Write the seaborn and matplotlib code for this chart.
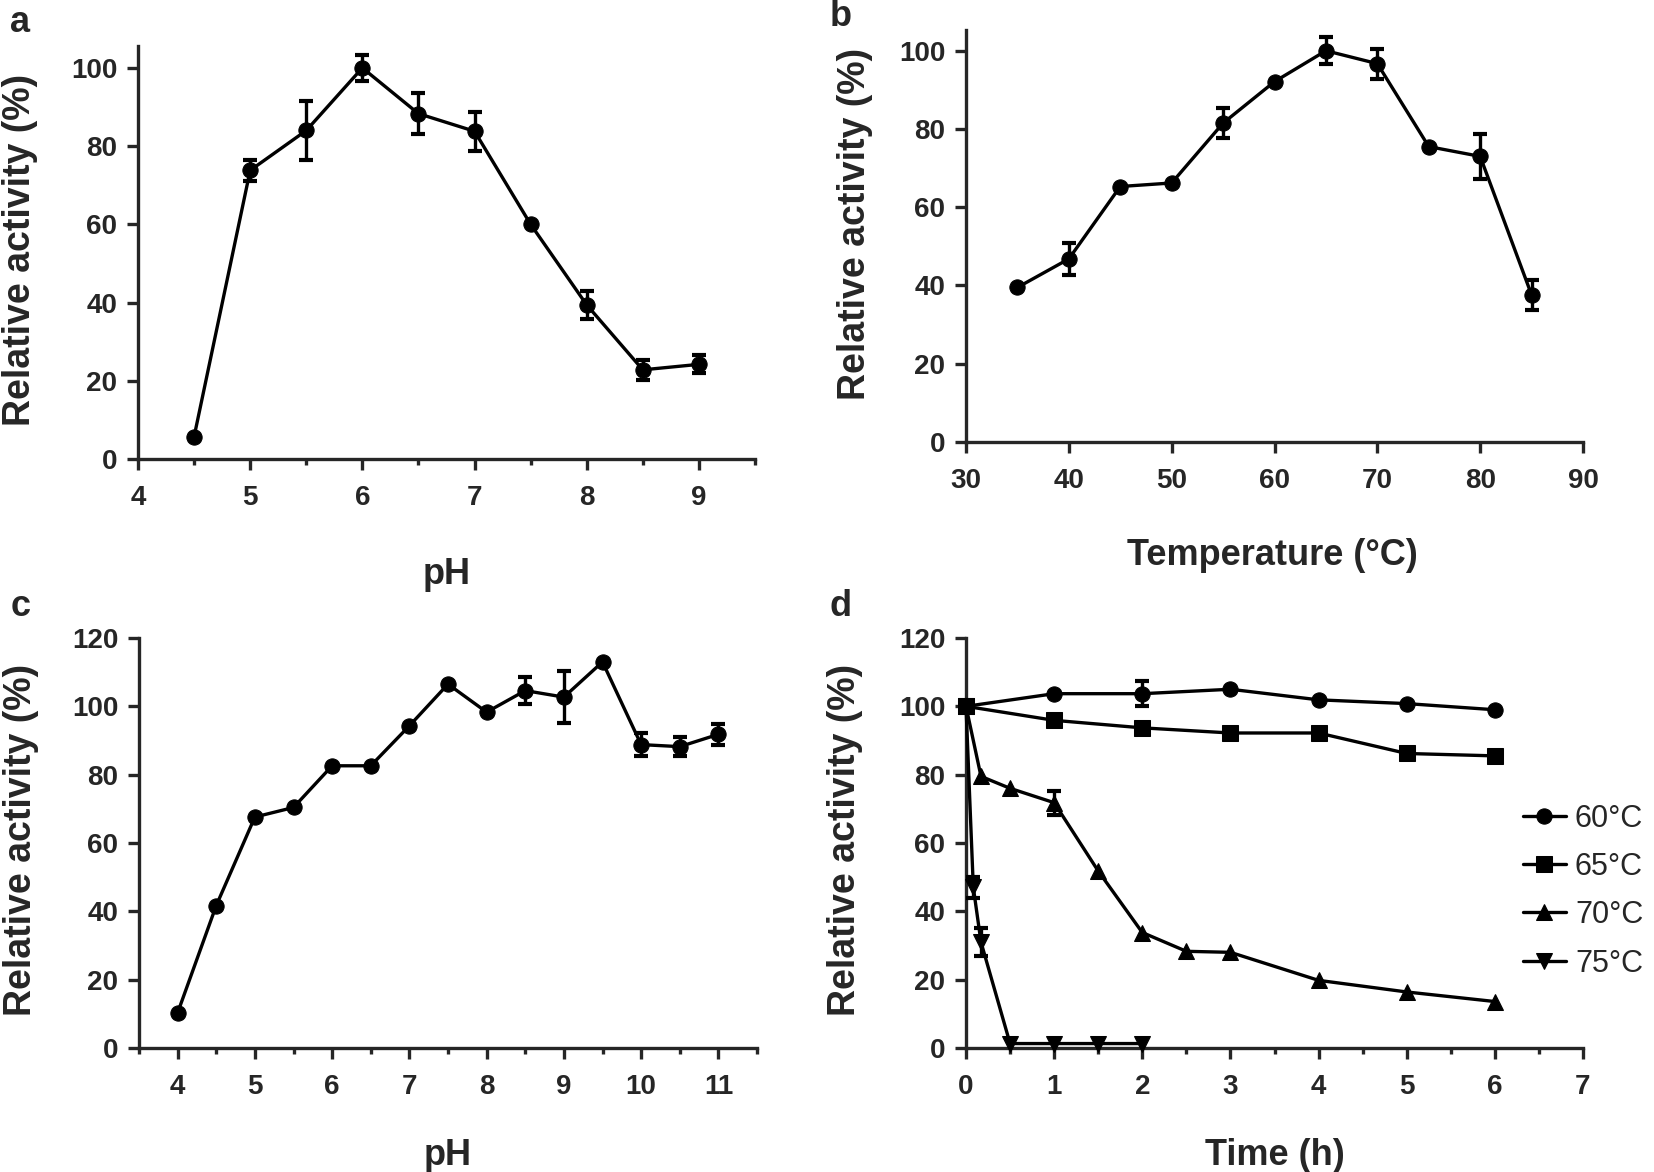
import numpy as np
import pandas as pd
import matplotlib
matplotlib.use("Agg")
import matplotlib.pyplot as plt
import seaborn as sns
from matplotlib.ticker import MultipleLocator

# ---- data ----
# a: pH optimum
ph_a = [4.5, 5, 5.5, 6, 6.5, 7, 7.5, 8, 8.5, 9]
act_a = [5.7, 73.8, 84, 100, 88.3, 83.8, 60, 39.4, 22.8, 24.2]
err_a = [0, 2.6, 7.5, 3.3, 5.2, 5.0, 0, 3.6, 2.5, 2.3]

# b: temperature optimum
temp_b = [35, 40, 45, 50, 55, 60, 65, 70, 75, 80, 85]
act_b = [39.5, 46.8, 65.3, 66.2, 81.5, 92.1, 100, 96.7, 75.5, 73, 37.6]
err_b = [0, 4, 0, 0, 3.8, 0, 3.4, 3.8, 0, 5.8, 3.8]

# c: pH stability
ph_c = [4, 4.5, 5, 5.5, 6, 6.5, 7, 7.5, 8, 8.5, 9, 9.5, 10, 10.5, 11]
act_c = [10.3, 41.7, 67.6, 70.4, 82.6, 82.6, 94.3, 106.5, 98.3, 104.6, 102.7, 113, 88.8, 88.2, 91.8]
err_c = [0, 0, 0, 0, 0, 0, 0, 0, 0, 4, 7.5, 0, 3.3, 2.8, 3.1]

# d: thermostability
t_60 = [0, 1, 2, 3, 4, 5, 6]
act_60 = [100, 103.7, 103.7, 105, 101.9, 100.8, 99]
err_60 = [0, 0, 3.6, 0, 0, 0, 0]
t_65 = [0, 1, 2, 3, 4, 5, 6]
act_65 = [100, 95.9, 93.7, 92.2, 92.2, 86.2, 85.5]
err_65 = [0, 0, 0, 0, 0, 0, 0]
t_70 = [0, 0.17, 0.5, 1, 1.5, 2, 2.5, 3, 4, 5, 6]
act_70 = [100, 79.5, 76, 71.8, 51.8, 33.8, 28.3, 28, 19.8, 16.4, 13.6]
err_70 = [0, 0, 0, 3.5, 0, 0, 0, 0, 0, 0, 0]
t_75 = [0, 0.083, 0.17, 0.5, 1, 1.5, 2]
act_75 = [100, 47, 31, 1.3, 1.3, 1.3, 1.3]
err_75 = [0, 3, 4, 0, 0, 0, 0]

# ---- style ----
sns.set_style("ticks")
plt.rcParams["font.family"] = ["Liberation Sans", "DejaVu Sans"]
plt.rcParams["axes.linewidth"] = 2.4

LW = 2.4
TICK_FS = 20
LABEL_FS = 26


def draw(ax, x, y, err, marker, label=None, ms=11):
    sns.lineplot(x=x, y=y, ax=ax, color="black", linewidth=LW, marker=marker,
                 markersize=ms, markeredgecolor="black", markerfacecolor="black",
                 label=label, clip_on=False, zorder=4)
    x = np.array(x)
    y = np.array(y)
    e = np.array(err)
    m = e > 0
    if m.any():
        ax.errorbar(x[m], y[m], yerr=e[m], fmt="none", ecolor="black",
                    elinewidth=LW, capsize=5, capthick=3, zorder=3, clip_on=False)


def style(ax, xlim, ylim, xmaj, xmin, ymaj):
    ax.set_xlim(*xlim)
    ax.set_ylim(*ylim)
    ax.xaxis.set_major_locator(MultipleLocator(xmaj))
    if xmin:
        ax.xaxis.set_minor_locator(MultipleLocator(xmin))
    ax.yaxis.set_major_locator(MultipleLocator(ymaj))
    ax.tick_params(which="major", length=8, width=LW, direction="out")
    ax.tick_params(which="minor", length=4, width=LW, direction="out")
    ax.tick_params(axis="x", which="major", pad=11)
    ax.tick_params(axis="y", which="major", pad=7)
    for lab in ax.get_xticklabels() + ax.get_yticklabels():
        lab.set_fontweight("bold")
        lab.set_fontsize(TICK_FS)
    sns.despine(ax=ax)


fig = plt.figure(figsize=(16.54, 11.72), dpi=100)
W, H = 1654, 1172


def add_axes(l, r, b, t):
    return fig.add_axes([l / W, 1 - b / H, (r - l) / W, (b - t) / H])


ax_a = add_axes(138, 755, 459, 46)
ax_b = add_axes(966, 1583, 442, 30)
ax_c = add_axes(139, 757, 1048, 638)
ax_d = add_axes(966, 1583, 1048, 638)

# a
draw(ax_a, ph_a, act_a, err_a, "o")
style(ax_a, (4, 9.5), (0, 105.6), 1, 0.5, 20)
ax_a.set_xlabel("pH", fontsize=LABEL_FS, fontweight="bold")
ax_a.xaxis.set_label_coords(0.5, -0.237)

# b
draw(ax_b, temp_b, act_b, err_b, "o")
style(ax_b, (30, 90), (0, 105.3), 10, None, 20)
ax_b.set_xlabel("Temperature (°C)", fontsize=LABEL_FS, fontweight="bold")
ax_b.xaxis.set_label_coords(0.496, -0.233)

# c
draw(ax_c, ph_c, act_c, err_c, "o")
style(ax_c, (3.5, 11.5), (0, 120), 1, 0.5, 20)
ax_c.set_xlabel("pH", fontsize=LABEL_FS, fontweight="bold")
ax_c.xaxis.set_label_coords(0.5, -0.22)

# d
draw(ax_d, t_60, act_60, err_60, "o", "60°C")
draw(ax_d, t_65, act_65, err_65, "s", "65°C", ms=11.5)
draw(ax_d, t_70, act_70, err_70, "^", "70°C", ms=12)
draw(ax_d, t_75, act_75, err_75, "v", "75°C", ms=12)
style(ax_d, (0, 7), (0, 120), 1, 0.5, 20)
ax_d.set_xlabel("Time (h)", fontsize=LABEL_FS, fontweight="bold")
ax_d.xaxis.set_label_coords(0.5, -0.22)
handles, labels = ax_d.get_legend_handles_labels()
ax_d.legend(handles, labels, loc="center left", bbox_to_anchor=(1523 / W, 1 - 891 / H),
            bbox_transform=fig.transFigure, frameon=False, fontsize=22,
            handlelength=1.4, handletextpad=0.3, labelspacing=0.6, borderpad=0,
            borderaxespad=0)

ylab_pos = {ax_a: (-0.162, 0.506), ax_b: (-0.151, 0.529), ax_c: (-0.162, 0.507), ax_d: (-0.167, 0.507)}
for ax, pos in ylab_pos.items():
    ax.set_ylabel("Relative activity (%)", fontsize=27, fontweight="bold")
    ax.yaxis.set_label_coords(*pos)

for txt, (px, py) in zip("abcd", [(20, 23), (841, 16), (21, 607), (841, 607)]):
    fig.text(px / W, 1 - py / H, txt, fontsize=26, fontweight="bold", ha="center", va="center")

fig.savefig("out.png", dpi=100)
